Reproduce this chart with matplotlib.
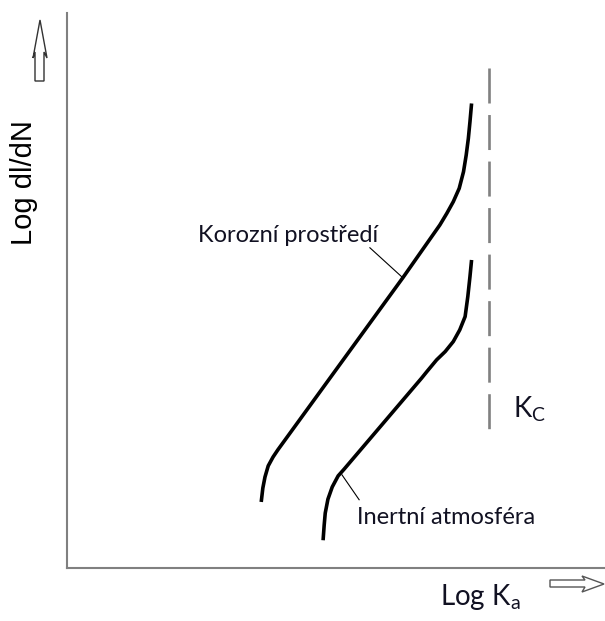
import matplotlib
matplotlib.use("Agg")
import matplotlib.pyplot as plt
from matplotlib.patches import Polygon

plt.rcParams['lines.scale_dashes'] = False
plt.rcParams['mathtext.fontset'] = 'custom'
plt.rcParams['mathtext.rm'] = 'Lato'

# ---- data (schematic, arbitrary log units 0..10) ----
corr_x = [3.61, 3.64, 3.68, 3.74, 3.83, 3.92, 6.25, 6.93, 7.06, 7.18, 7.29, 7.37, 7.42, 7.46, 7.49, 7.52]
corr_y = [1.19, 1.44, 1.64, 1.84, 2.00, 2.13, 5.24, 6.18, 6.39, 6.60, 6.84, 7.14, 7.44, 7.74, 8.04, 8.37]
inert_x = [4.76, 4.78, 4.80, 4.85, 4.93, 5.04, 5.15, 6.59, 6.69, 6.87, 7.03, 7.18, 7.30, 7.40, 7.45, 7.49, 7.52]
inert_y = [0.50, 0.77, 0.99, 1.24, 1.46, 1.66, 1.78, 3.42, 3.54, 3.75, 3.90, 4.08, 4.29, 4.53, 4.89, 5.25, 5.55]
kc_x = 7.84
kc_y = [9.01, 2.49]

label_corr = "Korozní prostředí"
label_inert = "Inertní atmosféra"
ylabel = "Log dl/dN"
xlabel = "Log K$_\\mathregular{a}$"
kc_label = "K$_\\mathregular{C}$"

W, H = 605, 621
fig = plt.figure(figsize=(W / 100, H / 100), dpi=100)
fig.patch.set_facecolor('white')

ax = fig.add_axes([67 / W, (H - 568) / H, 538 / W, 555 / H])
ax.set_xlim(0, 10)
ax.set_ylim(0, 10)
ax.set_xticks([])
ax.set_yticks([])
for s in ['top', 'right']:
    ax.spines[s].set_visible(False)
for s in ['left', 'bottom']:
    ax.spines[s].set_color('#808080')
    ax.spines[s].set_linewidth(1.5)

txtc = '#111122'

ax.plot(corr_x, corr_y, color='black', lw=2.6, solid_capstyle='butt', solid_joinstyle='round')
ax.plot(inert_x, inert_y, color='black', lw=2.6, solid_capstyle='butt', solid_joinstyle='round')
ax.plot([kc_x, kc_x], kc_y, color='#808080', lw=1.9, ls=(0, (25.2, 8.3)))

# leader lines
ax.plot([5.63, 6.23], [5.77, 5.24], color='black', lw=0.8)
ax.plot([5.11, 5.43], [1.68, 1.23], color='black', lw=0.8)

ax.text(2.43, 5.87, label_corr, fontsize=17, family='Lato', color=txtc, ha='left', va='baseline')
ax.text(5.39, 0.79, label_inert, fontsize=17, family='Lato', color=txtc, ha='left', va='baseline')
ax.text(8.29, 2.72, kc_label, fontsize=20, family='Lato', color=txtc, ha='left', va='baseline')

# overlay in pixel coords for outer labels and arrows
ov = fig.add_axes([0, 0, 1, 1], zorder=-1)
ov.set_xlim(0, W)
ov.set_ylim(H, 0)
ov.axis('off')

up = [(40, 20), (47, 58), (44, 52), (44, 81), (35, 81), (35, 52), (33, 58)]
ov.add_patch(Polygon(up, closed=True, facecolor='white', edgecolor='#333333', lw=1.0))
right = [(550, 580), (585, 580), (582, 576), (604, 584), (582, 592), (585, 587), (550, 587)]
ov.add_patch(Polygon(right, closed=True, facecolor='white', edgecolor='#555555', lw=1.0))

ov.text(24, 183, ylabel, rotation=90, fontsize=21, family='Liberation Sans', color='black',
        ha='center', va='center')
ov.text(440, 605, xlabel, fontsize=20, family='Lato', color=txtc, ha='left', va='baseline')

fig.savefig('out.png', dpi=100, facecolor='white')
